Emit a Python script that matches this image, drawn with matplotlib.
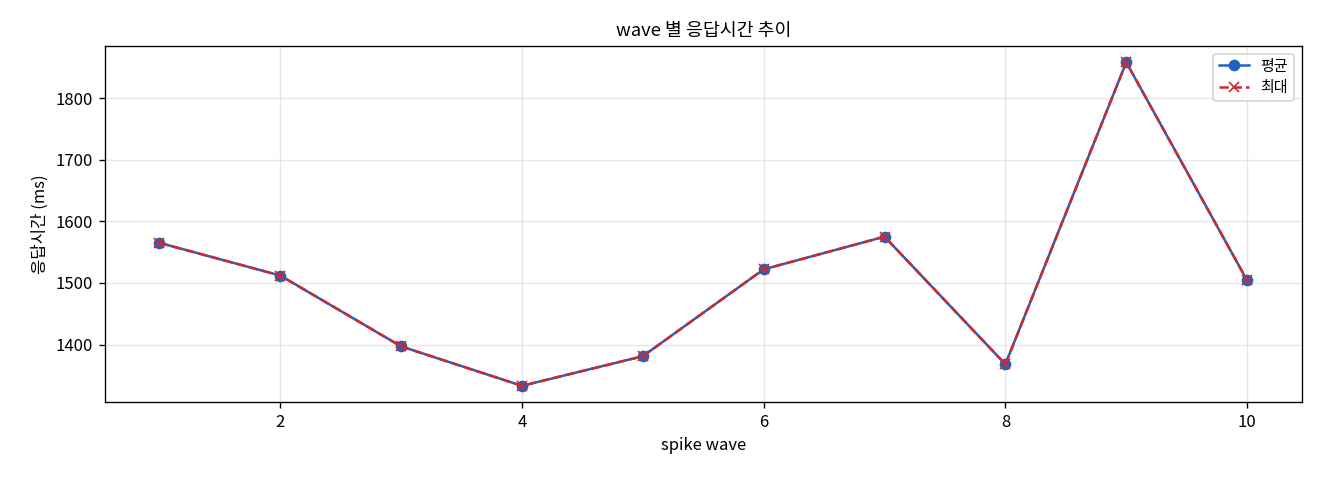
import matplotlib
matplotlib.use("Agg")
import matplotlib.pyplot as plt

plt.rcParams['font.family'] = ['Noto Sans CJK KR', 'DejaVu Sans']
plt.rcParams['axes.unicode_minus'] = False

waves = [1, 2, 3, 4, 5, 6, 7, 8, 9, 10]
avg_ms = [1565, 1512, 1397, 1333, 1381, 1522, 1575, 1368, 1858, 1504]
max_ms = [1565, 1512, 1397, 1333, 1381, 1522, 1575, 1368, 1858, 1504]

fig, ax = plt.subplots(figsize=(11, 4), dpi=120)
ax.plot(waves, avg_ms, '-o', color='#1f63c0', linewidth=1.5, markersize=6, label='평균')
ax.plot(waves, max_ms, '--x', color='#d0282d', linewidth=1.5, markersize=6, label='최대')

ax.set_title('wave 별 응답시간 추이', fontsize=11)
ax.set_xlabel('spike wave', fontsize=10)
ax.set_ylabel('응답시간 (ms)', fontsize=10)
ax.grid(True, alpha=0.3)
ax.legend(loc='upper right', fontsize=9)

plt.subplots_adjust(left=0.0795, right=0.986, top=0.904, bottom=0.1625)
plt.savefig('out.png')
